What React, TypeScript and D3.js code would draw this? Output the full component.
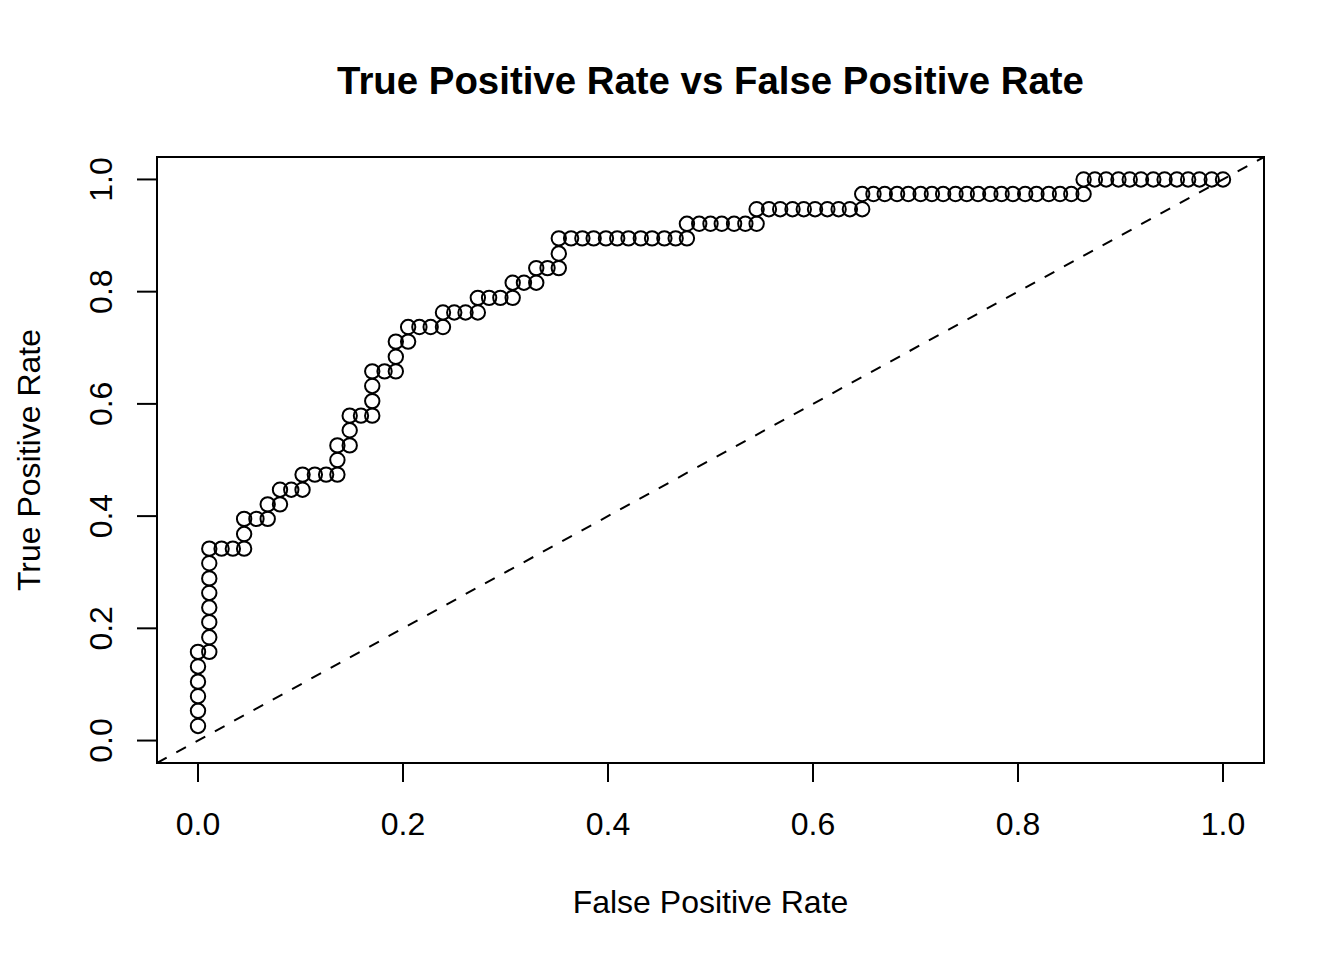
import { useEffect, useRef } from 'react';
import * as d3 from 'd3';

// ROC points (false positive rate, true positive rate)
const fpr = [
  0, 0, 0, 0, 0, 0,
  0.011, 0.011, 0.011, 0.011, 0.011, 0.011, 0.011, 0.011,
  0.023, 0.034, 0.045, 0.045, 0.045,
  0.057, 0.068, 0.068, 0.080, 0.080, 0.091, 0.102,
  0.102, 0.114, 0.125, 0.136, 0.136, 0.136,
  0.148, 0.148, 0.148, 0.159, 0.170, 0.170, 0.170, 0.170,
  0.182, 0.193, 0.193, 0.193, 0.205, 0.205,
  0.216, 0.227, 0.239, 0.239, 0.250, 0.261, 0.273, 0.273,
  0.284, 0.295, 0.307, 0.307, 0.318, 0.330, 0.330, 0.341, 0.352, 0.352, 0.352,
  0.364, 0.375, 0.386, 0.398, 0.409, 0.420, 0.432, 0.443, 0.455, 0.466, 0.477, 0.477,
  0.489, 0.500, 0.511, 0.523, 0.534, 0.545, 0.545,
  0.557, 0.568, 0.580, 0.591, 0.602, 0.614, 0.625, 0.636, 0.648, 0.648,
  0.659, 0.670, 0.682, 0.693, 0.705, 0.716, 0.727, 0.739, 0.750, 0.761,
  0.773, 0.784, 0.795, 0.807, 0.818, 0.830, 0.841, 0.852, 0.864, 0.864,
  0.875, 0.886, 0.898, 0.909, 0.920, 0.932, 0.943, 0.955, 0.966, 0.977, 0.989, 1.000,
];

const tpr = [
  0.026, 0.053, 0.079, 0.105, 0.132, 0.158,
  0.158, 0.184, 0.211, 0.237, 0.263, 0.289, 0.316, 0.342,
  0.342, 0.342, 0.342, 0.368, 0.395,
  0.395, 0.395, 0.421, 0.421, 0.447, 0.447, 0.447,
  0.474, 0.474, 0.474, 0.474, 0.500, 0.526,
  0.526, 0.553, 0.579, 0.579, 0.579, 0.605, 0.632, 0.658,
  0.658, 0.658, 0.684, 0.711, 0.711, 0.737,
  0.737, 0.737, 0.737, 0.763, 0.763, 0.763, 0.763, 0.789,
  0.789, 0.789, 0.789, 0.816, 0.816, 0.816, 0.842, 0.842, 0.842, 0.868, 0.895,
  0.895, 0.895, 0.895, 0.895, 0.895, 0.895, 0.895, 0.895, 0.895, 0.895, 0.895, 0.921,
  0.921, 0.921, 0.921, 0.921, 0.921, 0.921, 0.947,
  0.947, 0.947, 0.947, 0.947, 0.947, 0.947, 0.947, 0.947, 0.947, 0.974,
  0.974, 0.974, 0.974, 0.974, 0.974, 0.974, 0.974, 0.974, 0.974, 0.974,
  0.974, 0.974, 0.974, 0.974, 0.974, 0.974, 0.974, 0.974, 0.974, 1.000,
  1.000, 1.000, 1.000, 1.000, 1.000, 1.000, 1.000, 1.000, 1.000, 1.000, 1.000, 1.000,
];

const xTicks = [0, 0.2, 0.4, 0.6, 0.8, 1.0];
const yTicks = [0, 0.2, 0.4, 0.6, 0.8, 1.0];

const title = 'True Positive Rate vs False Positive Rate';
const xLabel = 'False Positive Rate';
const yLabel = 'True Positive Rate';

export default function App() {
  const svgRef = useRef<SVGSVGElement>(null);

  useEffect(() => {
    if (!svgRef.current) return;
    const width = 1344;
    const height = 960;
    const plot = { left: 157, right: 1264, top: 157, bottom: 763 };
    const font = 'Liberation Sans, Arial, Helvetica, sans-serif';
    const fontSize = 32;

    const svg = d3.select(svgRef.current);
    svg.selectAll('*').remove();
    svg.attr('width', width).attr('height', height).attr('viewBox', `0 0 ${width} ${height}`);

    svg.append('rect').attr('width', width).attr('height', height).attr('fill', '#ffffff');

    // R-style 4% padding around [0,1]
    const x = d3.scaleLinear().domain([-0.04, 1.04]).range([plot.left, plot.right]);
    const y = d3.scaleLinear().domain([-0.04, 1.04]).range([plot.bottom, plot.top]);

    svg.append('clipPath').attr('id', 'plot-clip')
      .append('rect')
      .attr('x', plot.left).attr('y', plot.top)
      .attr('width', plot.right - plot.left).attr('height', plot.bottom - plot.top);

    // diagonal reference line
    svg.append('line')
      .attr('clip-path', 'url(#plot-clip)')
      .attr('x1', x(-0.04)).attr('y1', y(-0.04))
      .attr('x2', x(1.04)).attr('y2', y(1.04))
      .attr('stroke', '#000').attr('stroke-width', 2)
      .attr('stroke-dasharray', '11,11');

    // points
    const pts = fpr.map((v, i) => ({ fx: v, ty: tpr[i] }));
    svg.append('g')
      .selectAll('circle')
      .data(pts)
      .join('circle')
      .attr('cx', d => x(d.fx))
      .attr('cy', d => y(d.ty))
      .attr('r', 7.2)
      .attr('fill', 'none')
      .attr('stroke', '#000')
      .attr('stroke-width', 2);

    // frame
    svg.append('rect')
      .attr('x', plot.left).attr('y', plot.top)
      .attr('width', plot.right - plot.left).attr('height', plot.bottom - plot.top)
      .attr('fill', 'none').attr('stroke', '#000').attr('stroke-width', 2);

    const fmt = d3.format('.1f');

    // x axis
    const xa = svg.append('g');
    xa.append('line')
      .attr('x1', x(0)).attr('x2', x(1)).attr('y1', plot.bottom).attr('y2', plot.bottom)
      .attr('stroke', '#000').attr('stroke-width', 2);
    xa.selectAll('line.tick').data(xTicks).join('line').attr('class', 'tick')
      .attr('x1', d => x(d)).attr('x2', d => x(d))
      .attr('y1', plot.bottom).attr('y2', plot.bottom + 19)
      .attr('stroke', '#000').attr('stroke-width', 2);
    xa.selectAll('text').data(xTicks).join('text')
      .attr('x', d => x(d)).attr('y', 834.5)
      .attr('text-anchor', 'middle')
      .style('font', `${fontSize}px ${font}`)
      .text(d => fmt(d));

    // y axis
    const ya = svg.append('g');
    ya.append('line')
      .attr('x1', plot.left).attr('x2', plot.left).attr('y1', y(0)).attr('y2', y(1))
      .attr('stroke', '#000').attr('stroke-width', 2);
    ya.selectAll('line.tick').data(yTicks).join('line').attr('class', 'tick')
      .attr('x1', plot.left - 20).attr('x2', plot.left)
      .attr('y1', d => y(d)).attr('y2', d => y(d))
      .attr('stroke', '#000').attr('stroke-width', 2);
    ya.selectAll('text').data(yTicks).join('text')
      .attr('transform', d => `translate(111.5,${y(d)}) rotate(-90)`)
      .attr('text-anchor', 'middle')
      .style('font', `${fontSize}px ${font}`)
      .text(d => fmt(d));

    // labels
    svg.append('text')
      .attr('x', (plot.left + plot.right) / 2).attr('y', 94)
      .attr('text-anchor', 'middle')
      .style('font', `bold ${fontSize * 1.2}px ${font}`)
      .text(title);
    svg.append('text')
      .attr('x', (plot.left + plot.right) / 2).attr('y', 912.5)
      .attr('text-anchor', 'middle')
      .style('font', `${fontSize}px ${font}`)
      .text(xLabel);
    svg.append('text')
      .attr('transform', `translate(39.5,${(plot.top + plot.bottom) / 2}) rotate(-90)`)
      .attr('text-anchor', 'middle')
      .style('font', `${fontSize}px ${font}`)
      .text(yLabel);
  }, []);

  return (
    <div style={{ position: 'absolute', left: 0, top: 0 }}>
      <svg ref={svgRef} style={{ display: 'block' }} />
    </div>
  );
}
